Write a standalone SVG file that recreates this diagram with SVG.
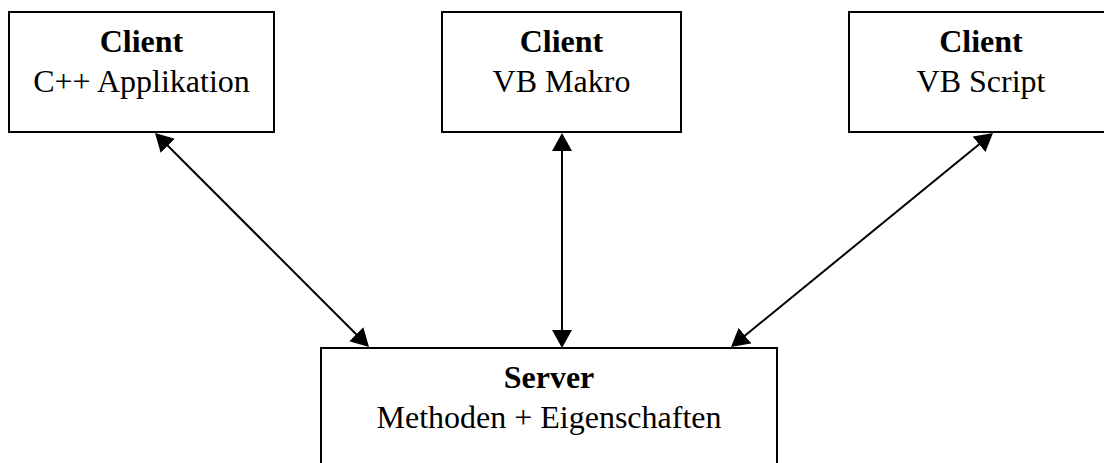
<svg xmlns="http://www.w3.org/2000/svg" width="1104" height="463" viewBox="0 0 1104 463">
  <style>
    .box { fill: #ffffff; stroke: #000000; stroke-width: 2; }
    .title { font-family: "Liberation Serif", "Times New Roman", serif; font-size: 32px; font-weight: bold; text-anchor: middle; fill: #000; }
    .sub { font-family: "Liberation Serif", "Times New Roman", serif; font-size: 32px; text-anchor: middle; fill: #000; }
    .conn { stroke: #000000; stroke-width: 2; fill: none; marker-start: url(#arrow); marker-end: url(#arrow); }
  </style>
  <defs>
    <marker id="arrow" viewBox="0 0 18 20" markerUnits="userSpaceOnUse" markerWidth="18" markerHeight="20" refX="14" refY="10" orient="auto-start-reverse">
      <path d="M0,0 L18,10 L0,20 z" fill="#000000"/>
    </marker>
  </defs>
  <rect width="1104" height="463" fill="#ffffff"/>
  <g id="client-cpp">
    <rect class="box" x="9" y="12" width="265" height="120"/>
    <text class="title" x="141.5" y="52">Client</text>
    <text class="sub" x="141.5" y="92">C++ Applikation</text>
  </g>
  <g id="client-vbmakro">
    <rect class="box" x="442" y="12" width="239" height="120"/>
    <text class="title" x="561.5" y="52">Client</text>
    <text class="sub" x="561.5" y="92">VB Makro</text>
  </g>
  <g id="client-vbscript">
    <rect class="box" x="849" y="12" width="264" height="120"/>
    <text class="title" x="981" y="52">Client</text>
    <text class="sub" x="981" y="92">VB Script</text>
  </g>
  <g id="server">
    <rect class="box" x="321" y="348" width="456" height="130"/>
    <text class="title" x="549" y="388">Server</text>
    <text class="sub" x="549" y="428">Methoden + Eigenschaften</text>
  </g>
  <g id="connectors">
    <line class="conn" x1="157.83" y1="135.83" x2="366.17" y2="344.17"/>
    <line class="conn" x1="562" y1="137" x2="562" y2="344"/>
    <line class="conn" x1="989.9" y1="135.53" x2="734.1" y2="344.47"/>
  </g>
</svg>
